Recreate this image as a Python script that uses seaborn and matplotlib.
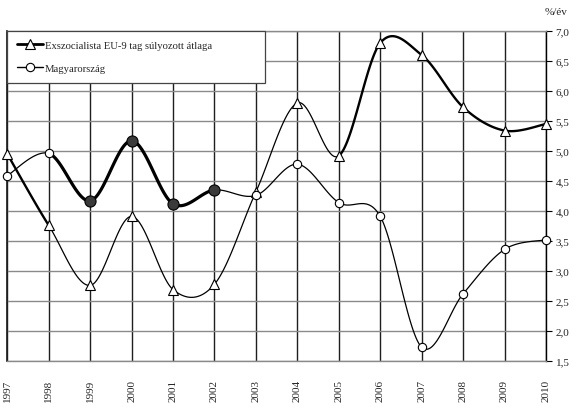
import numpy as np
import matplotlib
matplotlib.use("Agg")
import matplotlib.pyplot as plt
from matplotlib.lines import Line2D
import seaborn as sns

#%% data (%/év)
years = [1997, 1998, 1999, 2000, 2001, 2002, 2003, 2004, 2005, 2006, 2007, 2008, 2009, 2010]
eu9 = [4.95, 3.76, 2.76, 3.91, 2.69, 2.78, 4.32, 5.80, 4.92, 6.80, 6.60, 5.73, 5.34, 5.45]
hungary = [4.59, 4.96, 4.17, 5.17, 4.12, 4.35, 4.26, 4.78, 4.14, 3.91, 1.73, 2.62, 3.36, 3.52]
label_eu9 = "Exszocialista EU-9 tag súlyozott átlaga"
label_hu = "Magyarország"
y_ticks = [1.5, 2.0, 2.5, 3.0, 3.5, 4.0, 4.5, 5.0, 5.5, 6.0, 6.5, 7.0]
unit = "%/év"

# highlighted stretches of each curve (drawn bold)
eu9_bold = [(1997, 1998), (2005, 2010)]
hu_bold = [(1998, 2002)]
hu_filled = [1999, 2000, 2001, 2002]


def smooth_segments(x, y, n=40):
    # excel-like smoothed line: one cubic bezier per segment
    x = np.asarray(x, float)
    y = np.asarray(y, float)
    xp = np.concatenate([[x[0]], x, [x[-1]]])
    yp = np.concatenate([[y[0]], y, [y[-1]]])
    t = np.linspace(0, 1, n)[:, None]
    segs = []
    for i in range(len(x) - 1):
        p0 = np.array([x[i], y[i]])
        p3 = np.array([x[i + 1], y[i + 1]])
        prev = np.array([xp[i], yp[i]])
        nxt = np.array([xp[i + 3], yp[i + 3]])
        c1 = p0 + (p3 - prev) / 6
        c2 = p3 - (nxt - p0) / 6
        pts = (1 - t) ** 3 * p0 + 3 * (1 - t) ** 2 * t * c1 + 3 * (1 - t) * t ** 2 * c2 + t ** 3 * p3
        segs.append((x[i], x[i + 1], pts))
    return segs


def is_bold(a, b, spans):
    return any(a >= s and b <= e for s, e in spans)


sns.set_theme(style="white")
plt.rcParams["font.family"] = ["Liberation Serif", "DejaVu Serif"]

fig = plt.figure(figsize=(5.8, 4.1), dpi=100)
ax = fig.add_axes([7.3 / 580, 1 - 362 / 410, 538.7 / 580, 330 / 410])

for a, b, pts in smooth_segments(years, eu9):
    lw = 1.7 if is_bold(a, b, eu9_bold) else 0.9
    sns.lineplot(x=pts[:, 0], y=pts[:, 1], sort=False, estimator=None, color="black",
                 linewidth=lw, ax=ax, zorder=3)
for a, b, pts in smooth_segments(years, hungary):
    lw = 2.3 if is_bold(a, b, hu_bold) else 0.9
    sns.lineplot(x=pts[:, 0], y=pts[:, 1], sort=False, estimator=None, color="black",
                 linewidth=lw, ax=ax, zorder=3)

ax.plot(years, eu9, linestyle="none", marker="^", ms=6.5, mfc="white", mec="black",
        mew=0.8, zorder=5, clip_on=False)
open_x = [yr for yr in years if yr not in hu_filled]
open_y = [v for yr, v in zip(years, hungary) if yr not in hu_filled]
fill_x = [yr for yr in years if yr in hu_filled]
fill_y = [v for yr, v in zip(years, hungary) if yr in hu_filled]
ax.plot(open_x, open_y, linestyle="none", marker="o", ms=6, mfc="white", mec="black",
        mew=0.8, zorder=5, clip_on=False)
ax.plot(fill_x, fill_y, linestyle="none", marker="o", ms=8, mfc="#3a3a3a", mec="black",
        mew=0.8, zorder=5, clip_on=False)

ax.set_xlim(1997, 2010)
ax.set_ylim(1.5, 7.0)
ax.set_xlabel("")
ax.set_ylabel("")
ax.set_xticks(years)
ax.set_xticklabels([str(yr) for yr in years], rotation=90, fontsize=8)
ax.tick_params(axis="x", length=0, pad=13)
ax.yaxis.tick_right()
ax.set_yticks(y_ticks)
ax.set_yticklabels([f"{v:.1f}".replace(".", ",") for v in y_ticks], fontsize=8)
ax.tick_params(axis="y", right=True, length=4, width=0.8, color="black", pad=3)

ax.set_axisbelow(True)
ax.yaxis.grid(True, color="#8a8a8a", linewidth=1.0)
ax.xaxis.grid(True, color="#1e1e1e", linewidth=1.0)
for side in ["top", "bottom"]:
    ax.spines[side].set_color("#8a8a8a")
    ax.spines[side].set_linewidth(1.0)
ax.spines["left"].set_color("#1e1e1e")
ax.spines["right"].set_color("black")
ax.spines["right"].set_linewidth(1.0)

ax.text(1.019, 1.06, unit, transform=ax.transAxes, ha="center", va="center", fontsize=8)

handles = [
    Line2D([], [], color="black", lw=2.0, marker="^", ms=6.5, mfc="white", mec="black", mew=0.8),
    Line2D([], [], color="black", lw=1.0, marker="o", ms=6, mfc="white", mec="black", mew=0.8),
]
leg = ax.legend(handles, [label_eu9, label_hu], loc="upper left",
                bbox_to_anchor=(0, 0, 0.479, 1), mode="expand", borderaxespad=0,
                fontsize=7.7, fancybox=False, framealpha=1, edgecolor="#444444",
                handlelength=2.4, handletextpad=0.2, labelspacing=1.25,
                borderpad=0.9)
leg.get_frame().set_linewidth(0.9)
leg.set_zorder(10)

fig.savefig("out.png", dpi=100)
